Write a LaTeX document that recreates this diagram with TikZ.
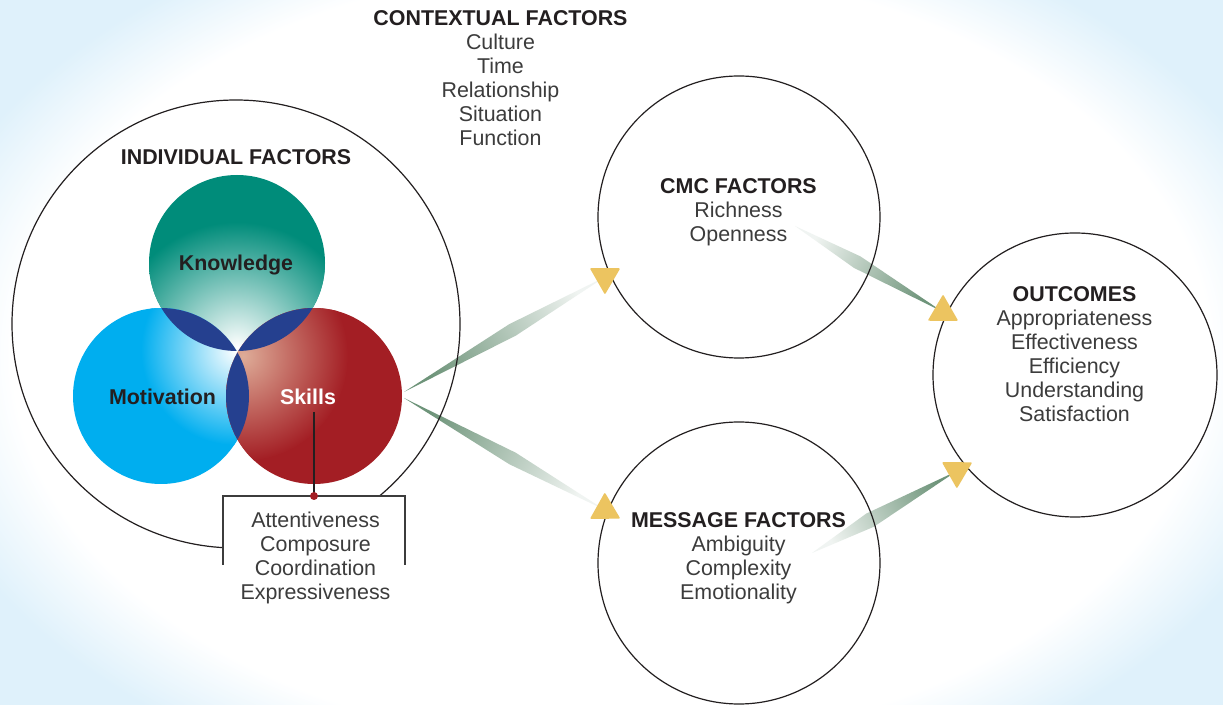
\documentclass[tikz,border=0pt]{standalone}
\usepackage{fontspec}
\setmainfont{Liberation Sans}
\usetikzlibrary{calc}
\definecolor{bgblue}{RGB}{223,241,251}
\definecolor{tealK}{RGB}{0,140,122}
\definecolor{cyanM}{RGB}{0,174,239}
\definecolor{redS}{RGB}{163,30,36}
\definecolor{lensblue}{RGB}{37,64,143}
\definecolor{shaftgreen}{RGB}{110,148,122}
\definecolor{headyellow}{RGB}{236,196,96}
\definecolor{inkdark}{RGB}{35,31,32}
\definecolor{inkgray}{RGB}{60,60,60}
\definecolor{skillglow}{RGB}{222,172,152}
\pgfdeclareradialshading{bgshade}{\pgfpointorigin}{color(0bp)=(white); color(11.6bp)=(white); color(13.8bp)=(bgblue); color(50bp)=(bgblue)}
\tikzset{
  lbl/.style={font=\fontsize{10.7}{12}\selectfont\bfseries, text=inkdark, inner sep=0pt, anchor=base},
  itm/.style={font=\fontsize{10.7}{12}\selectfont, text=inkgray, inner sep=0pt, anchor=base},
  outline/.style={draw=inkdark, line width=0.6pt},
  bracketline/.style={draw=inkgray, line width=0.7pt},
  headtri/.style={fill=headyellow, draw=headyellow, line width=0.8pt, line join=round},
  fadeout/.style={left color=shaftgreen, right color=shaftgreen!10!white},
  fadein/.style={left color=shaftgreen!10!white, right color=shaftgreen}
}
\begin{document}
\begin{tikzpicture}[x=0.5pt,y=-0.5pt]
\useasboundingbox (0,0) rectangle (1223,705);
% background
\begin{scope}
  \clip (0,0) rectangle (1223,705);
  \fill[bgblue] (0,0) rectangle (1223,705);
  \shade[shading=bgshade] (611,355) ellipse (1290 and 840);
\end{scope}
% coordinates
\coordinate (ind) at (236,324);
\coordinate (cmc) at (739,217);
\coordinate (msg) at (739,563);
\coordinate (out) at (1075,375);
\coordinate (K) at (237,263);
\coordinate (M) at (161,396);
\coordinate (S) at (314,396);
\coordinate (s1) at (404,392); \coordinate (h1) at (605,277);
\coordinate (s2) at (404,398); \coordinate (h2) at (605,510);
\coordinate (s3) at (795,226); \coordinate (h3) at (943,312);
\coordinate (s4) at (812,553); \coordinate (h4) at (957,471);
% circle fills
\fill[white] (ind) circle (224);
\fill[white] (cmc) circle (141);
\fill[white] (msg) circle (141);
\fill[white] (out) circle (142);
% shafts
\shade[fadeout, shading angle=119.8] (s1) -- ($(s1)!0.54!(h1)!3.3pt!90:(h1)$) -- (h1) -- ($(s1)!0.54!(h1)!3.3pt!-90:(h1)$) -- cycle;
\shade[fadeout, shading angle=60.7] (s2) -- ($(s2)!0.54!(h2)!3.3pt!90:(h2)$) -- (h2) -- ($(s2)!0.54!(h2)!3.3pt!-90:(h2)$) -- cycle;
\shade[fadein, shading angle=59.8] (s3) -- ($(s3)!0.42!(h3)!3.3pt!90:(h3)$) -- (h3) -- ($(s3)!0.42!(h3)!3.3pt!-90:(h3)$) -- cycle;
\shade[fadein, shading angle=119.5] (s4) -- ($(s4)!0.40!(h4)!3.8pt!90:(h4)$) -- (h4) -- ($(s4)!0.40!(h4)!3.8pt!-90:(h4)$) -- cycle;
% outlines
\draw[outline] (ind) circle (224);
\draw[outline] (cmc) circle (141);
\draw[outline] (msg) circle (141);
\draw[outline] (out) circle (142);
% Venn: Knowledge
\fill[tealK] (K) circle (88);
\begin{scope}
  \clip (K) circle (88);
  \shade[inner color=white, outer color=tealK] (237,347) circle (125);
\end{scope}
% Motivation
\fill[cyanM] (M) circle (88);
\begin{scope}
  \clip (M) circle (88);
  \shade[inner color=white, outer color=cyanM] (236,350) circle (95);
\end{scope}
% Skills
\fill[redS] (S) circle (88);
\begin{scope}
  \clip (S) circle (88);
  \shade[inner color=skillglow, outer color=redS] (243,356) circle (105);
\end{scope}
% lenses
\begin{scope}
  \clip (K) circle (88);
  \fill[lensblue] (M) circle (88);
  \fill[lensblue] (S) circle (88);
\end{scope}
\begin{scope}
  \clip (M) circle (88);
  \fill[lensblue] (S) circle (88);
\end{scope}
% skills bracket
\fill[white] (223,496) rectangle (405,612);
\coordinate (skl) at (314,412);
\coordinate (brl) at (223,565);
\coordinate (brr) at (405,565);
\draw[draw=inkdark, line width=0.7pt] (skl) -- (314,496);
\draw[bracketline] (brl) |- (314,496) -| (brr);
\node[circle, fill=redS, minimum size=4pt, inner sep=0pt] (dot) at (314,496) {};
% arrowheads
\draw[headtri] ($(h1)+(-29.8:16)$) -- ($(h1)+(90.2:16)$) -- ($(h1)+(-149.8:16)$) -- cycle;
\draw[headtri] ($(h2)+(29.3:16)$) -- ($(h2)+(149.3:16)$) -- ($(h2)+(-90.7:16)$) -- cycle;
\draw[headtri] ($(h3)+(30.2:16)$) -- ($(h3)+(150.2:16)$) -- ($(h3)+(-89.8:16)$) -- cycle;
\draw[headtri] ($(h4)+(-29.5:16)$) -- ($(h4)+(90.5:16)$) -- ($(h4)+(-149.5:16)$) -- cycle;
% texts
\node[lbl] (ctxt) at (500.5,25.5) {CONTEXTUAL FACTORS};
\foreach \t [count=\i from 1] in {Culture,Time,Relationship,Situation,Function}
  \node[itm] (ctx\i) at (500.5,{25.5+24*\i}) {\t};
\node[lbl] (indt) at (236,164.5) {INDIVIDUAL FACTORS};
\node[lbl] (know) at (236,270.5) {Knowledge};
\node[lbl] (moti) at (162.5,404.5) {Motivation};
\node[lbl, text=white] (skills) at (308,404.5) {Skills};
\foreach \t [count=\i from 0] in {Attentiveness,Composure,Coordination,Expressiveness}
  \node[itm] (sk\i) at (315.5,{527.5+24*\i}) {\t};
\node[lbl] (cmct) at (738.5,193.5) {CMC FACTORS};
\foreach \t [count=\i from 1] in {Richness,Openness}
  \node[itm] (cmc\i) at (738.5,{193.5+24*\i}) {\t};
\node[lbl] (msgt) at (738.5,527.5) {MESSAGE FACTORS};
\foreach \t [count=\i from 1] in {Ambiguity,Complexity,Emotionality}
  \node[itm] (msg\i) at (738.5,{527.5+24*\i}) {\t};
\node[lbl] (outt) at (1074.5,301.5) {OUTCOMES};
\foreach \t [count=\i from 1] in {Appropriateness,Effectiveness,Efficiency,Understanding,Satisfaction}
  \node[itm] (out\i) at (1074.5,{301.5+24*\i}) {\t};
\end{tikzpicture}
\end{document}
